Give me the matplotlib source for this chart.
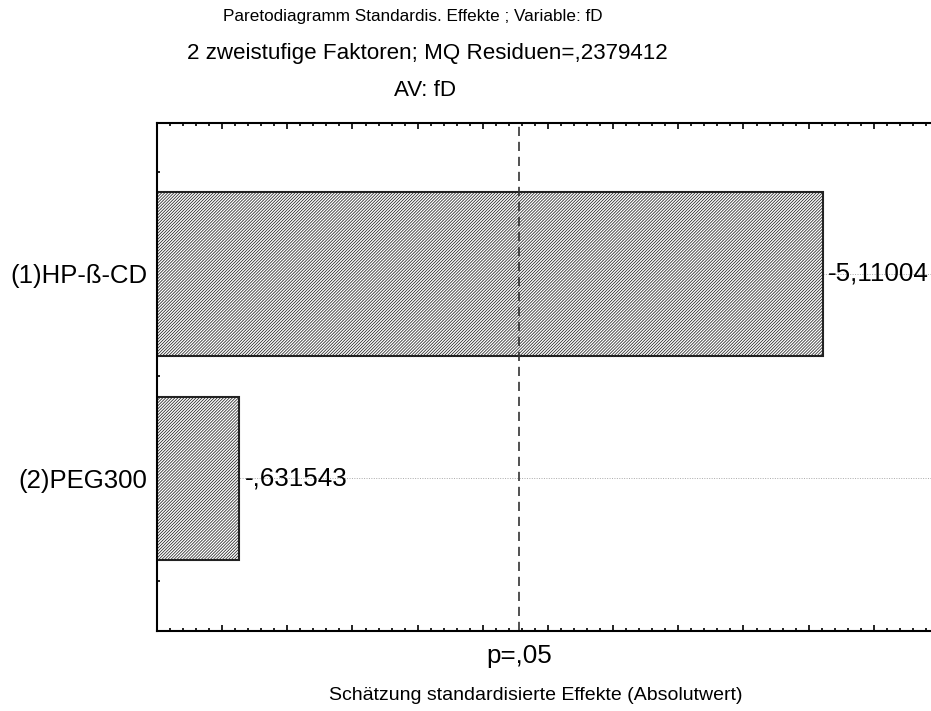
import matplotlib
matplotlib.use("Agg")
import matplotlib.pyplot as plt
import numpy as np
from matplotlib.ticker import MultipleLocator, FixedLocator

plt.rcParams['font.family'] = ['Liberation Sans', 'DejaVu Sans']
plt.rcParams['hatch.linewidth'] = 0.55
plt.rcParams['hatch.color'] = '#555555'

# Data
factors = ["(2)PEG300", "(1)HP-ß-CD"]
effects = [-0.631543, -5.11004]
value_labels = ["-,631543", "-5,11004"]
p_crit = 2.776445  # t(0.975, 4)
p_label = "p=,05"

W, H = 931, 711
fig = plt.figure(figsize=(W / 100, H / 100), dpi=100)
ax = fig.add_axes([157 / W, (H - 631) / H, (W - 157) / W, (631 - 123) / H])

ypos = np.arange(len(factors))
absvals = np.abs(effects)

ax.set_axisbelow(True)
for y in ypos:
    ax.axhline(y, color='#aaaaaa', linestyle=(0, (1, 1.5)), linewidth=0.7, zorder=0)

ax.barh(ypos, absvals, height=0.8, facecolor='white', edgecolor='#222222',
        linewidth=1.5, hatch='/' * 11, zorder=2)

ax.axvline(p_crit, color='#333333', linestyle=(0, (5.5, 3.5)), linewidth=1.2, zorder=3)

for y, v, lab in zip(ypos, absvals, value_labels):
    ax.text(v + 0.04, y, lab, ha='left', va='center', fontsize=18.7, zorder=4)

ax.set_xlim(0, (W - 157) / 130.33)
ax.set_ylim(-0.746, 1.738)

ax.set_yticks(ypos)
ax.set_yticklabels(factors, fontsize=18.5)
ax.yaxis.set_minor_locator(FixedLocator([-0.5, -0.25, 0.25, 0.5, 0.75, 1.25, 1.5]))
ax.xaxis.set_major_locator(MultipleLocator(0.5))
ax.xaxis.set_minor_locator(MultipleLocator(0.1))
ax.tick_params(axis='x', which='both', direction='in', top=True, bottom=True,
               labelbottom=False, width=1.2, color='black')
ax.tick_params(axis='x', which='major', length=4)
ax.tick_params(axis='x', which='minor', length=2.2)
ax.tick_params(axis='y', which='both', direction='in', left=True, right=False,
               length=2.5, width=1.2, pad=7)
for side in ['left', 'top', 'bottom']:
    ax.spines[side].set_linewidth(1.5)
    ax.spines[side].set_zorder(5)
ax.spines['right'].set_visible(False)

ax.text(p_crit, -0.87, p_label, ha='center', va='center', fontsize=18.7,
        transform=ax.transData, clip_on=False)

fig.text(413 / W, 1 - 16 / H, "Paretodiagramm Standardis. Effekte ; Variable: fD",
         ha='center', va='center', fontsize=12.3)
fig.text(427 / W, 1 - 53 / H, "2 zweistufige Faktoren; MQ Residuen=,2379412",
         ha='center', va='center', fontsize=16.1)
fig.text(425 / W, 1 - 91 / H, "AV: fD", ha='center', va='center', fontsize=16.1)
fig.text(536 / W, 1 - 695 / H, "Schätzung standardisierte Effekte (Absolutwert)",
         ha='center', va='center', fontsize=14)

fig.savefig("out.png", dpi=100)
